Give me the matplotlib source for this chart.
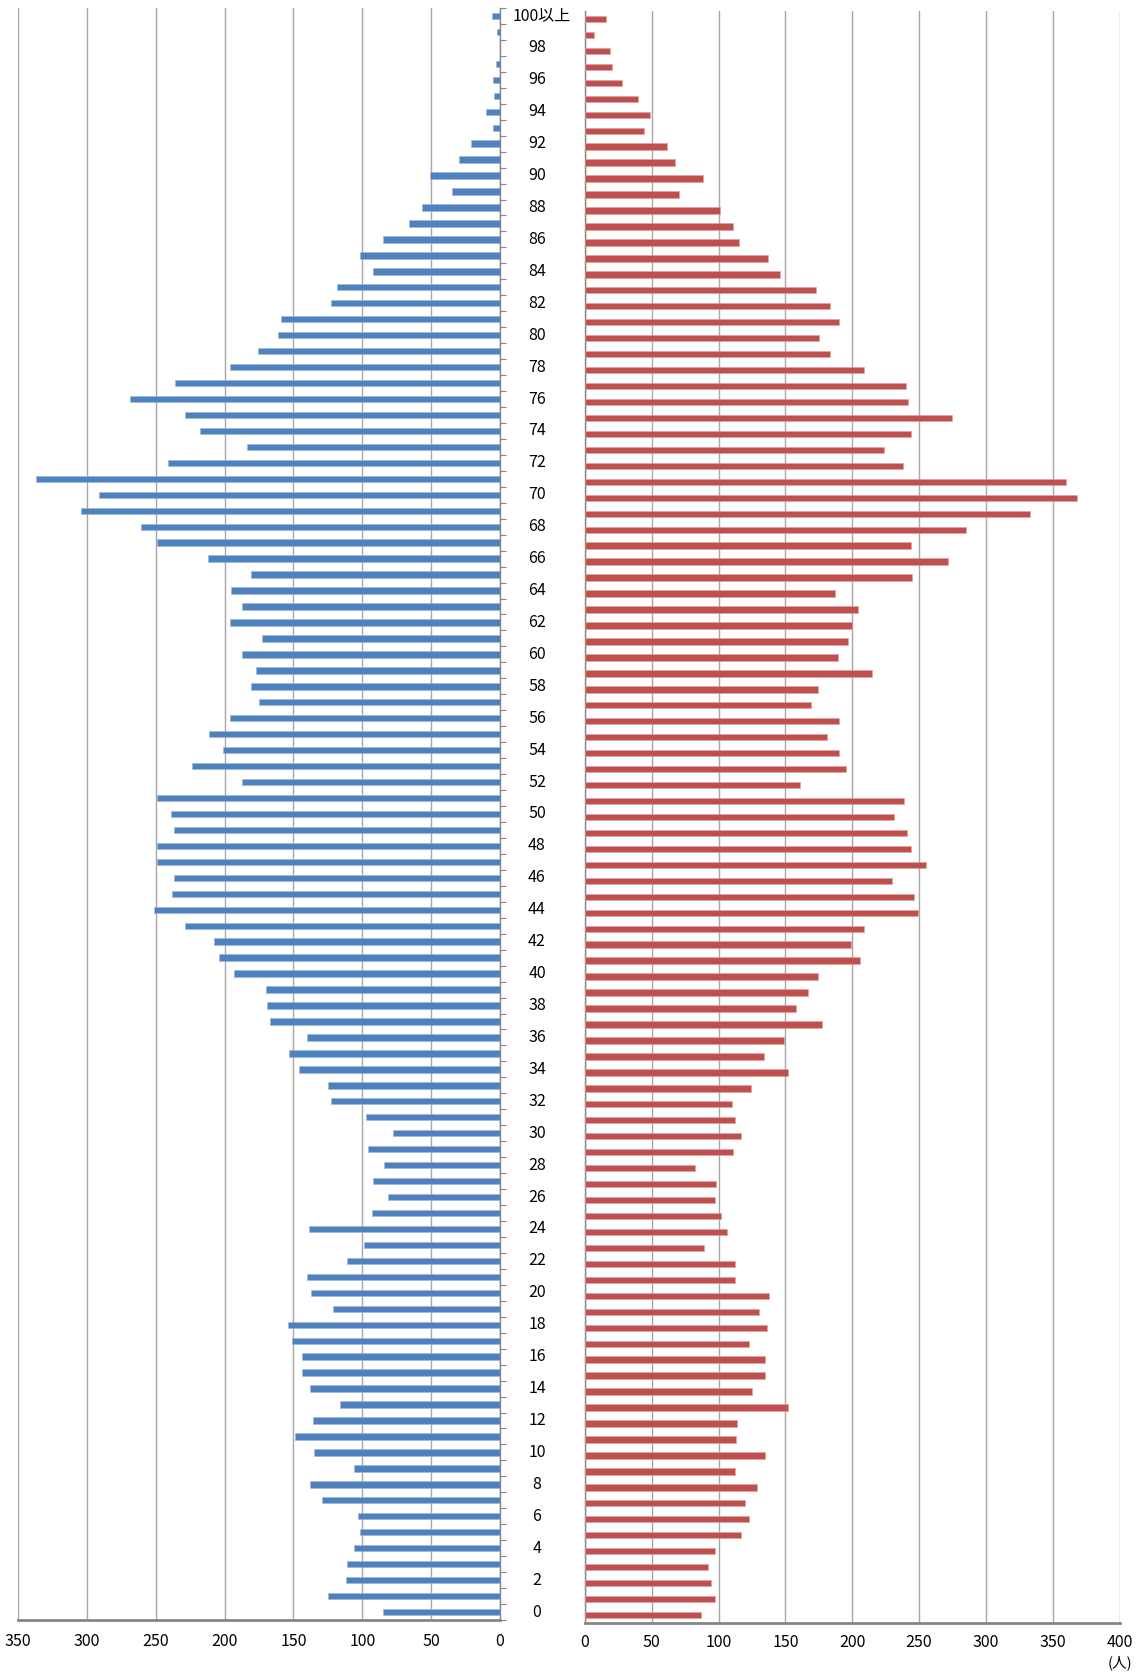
import matplotlib
matplotlib.use("Agg")
import matplotlib.pyplot as plt
import matplotlib.transforms as mtransforms
import numpy as np

plt.rcParams['font.family'] = ['Noto Sans CJK JP', 'DejaVu Sans']

# ages 0 .. 100 (100 = 100以上)
ages = list(range(101))
age_labels = [str(a) if a % 2 == 0 else "" for a in ages]
age_labels[100] = "100以上"

# left (blue) series, age 0 -> 100
male = [85, 125, 112, 111, 106, 102, 103, 129, 138, 106,
        135, 149, 136, 116, 138, 144, 144, 151, 154, 121,
        137, 140, 111, 99, 139, 93, 81, 92, 84, 96,
        78, 97, 123, 125, 146, 153, 140, 167, 169, 170,
        193, 204, 208, 229, 251, 238, 237, 249, 249, 237,
        239, 249, 187, 224, 201, 211, 196, 175, 181, 177,
        187, 173, 196, 187, 195, 181, 212, 249, 261, 304,
        291, 337, 241, 184, 218, 229, 269, 236, 196, 176,
        161, 159, 123, 118, 92, 102, 85, 66, 57, 35,
        51, 30, 21, 5, 10, 4, 5, 3, 0, 2,
        6]

# right (red) series, age 0 -> 100
female = [87, 97, 94, 92, 97, 117, 123, 120, 129, 112,
          135, 113, 114, 152, 125, 135, 135, 123, 136, 130,
          138, 112, 112, 89, 106, 102, 97, 98, 82, 111,
          117, 112, 110, 124, 152, 134, 149, 177, 158, 167,
          174, 206, 199, 209, 249, 246, 230, 255, 244, 241,
          231, 239, 161, 195, 190, 181, 190, 169, 174, 215,
          189, 197, 200, 204, 187, 245, 272, 244, 285, 333,
          368, 360, 238, 224, 244, 275, 242, 240, 209, 183,
          175, 190, 183, 173, 146, 137, 115, 111, 101, 70,
          88, 67, 61, 44, 49, 40, 28, 20, 19, 7,
          16]

left_ticks = [0, 50, 100, 150, 200, 250, 300, 350]
right_ticks = [0, 50, 100, 150, 200, 250, 300, 350, 400]

W, H = 1144, 1672
fig = plt.figure(figsize=(W / 100, H / 100), dpi=100)

grid_c = '#a6a6a6'
axis_c = '#868686'

# ---- left side ----
axL = fig.add_axes([18 / W, 1 - 1620 / H, (500 - 18) / W, (1620 - 8) / H])
axL.barh(ages, male, height=0.4, color='#4f81bd', edgecolor='#9bb7dd', linewidth=0.4, zorder=3)
axL.set_xlim(350, 0)
axL.set_ylim(-0.5, 100.5)
axL.set_xticks(left_ticks)
axL.set_xticklabels([str(t) for t in left_ticks], fontsize=11.5)
axL.xaxis.grid(True, color=grid_c, linewidth=1.0, zorder=0)
axL.yaxis.tick_right()
axL.set_yticks([a - 0.5 for a in ages] + [100.5])
axL.set_yticklabels([])
axL.tick_params(axis='y', direction='out', length=4, color=axis_c, width=0.8)
axL.tick_params(axis='x', length=0, pad=9)
for s in ['top', 'left']:
    axL.spines[s].set_visible(False)
axL.spines['right'].set_color(axis_c)
axL.spines['right'].set_linewidth(1.0)
axL.spines['bottom'].set_color(axis_c)
axL.spines['bottom'].set_linewidth(2.0)

# age labels in the middle gap
trans = mtransforms.blended_transform_factory(fig.transFigure, axL.transData)
for a, lab in zip(ages, age_labels):
    if lab:
        xc = 542 / W if a == 100 else 537 / W
        axL.text(xc, a, lab, transform=trans, ha='center', va='center', fontsize=11.5)

# ---- right side ----
axR = fig.add_axes([585 / W, 1 - 1623 / H, (1119.5 - 585) / W, (1623 - 11) / H])
axR.barh(ages, female, height=0.4, color='#c0504d', edgecolor='#e0a09e', linewidth=0.4, zorder=3)
axR.set_xlim(0, 400)
axR.set_ylim(-0.5, 100.5)
axR.set_xticks(right_ticks)
axR.set_xticklabels([str(t) for t in right_ticks], fontsize=11.5)
axR.xaxis.grid(True, color=grid_c, linewidth=1.0, zorder=0)
axR.set_yticks([])
axR.tick_params(axis='x', length=0, pad=8)
for s in ['top', 'right']:
    axR.spines[s].set_visible(False)
axR.spines['left'].set_color(axis_c)
axR.spines['left'].set_linewidth(1.0)
axR.spines['bottom'].set_color(axis_c)
axR.spines['bottom'].set_linewidth(2.0)

transR = mtransforms.blended_transform_factory(axR.transData, fig.transFigure)
axR.text(400, 1 - 1663 / H, "(人)", transform=transR, ha='center', va='center', fontsize=10.5)

fig.savefig("out.png", dpi=100)
